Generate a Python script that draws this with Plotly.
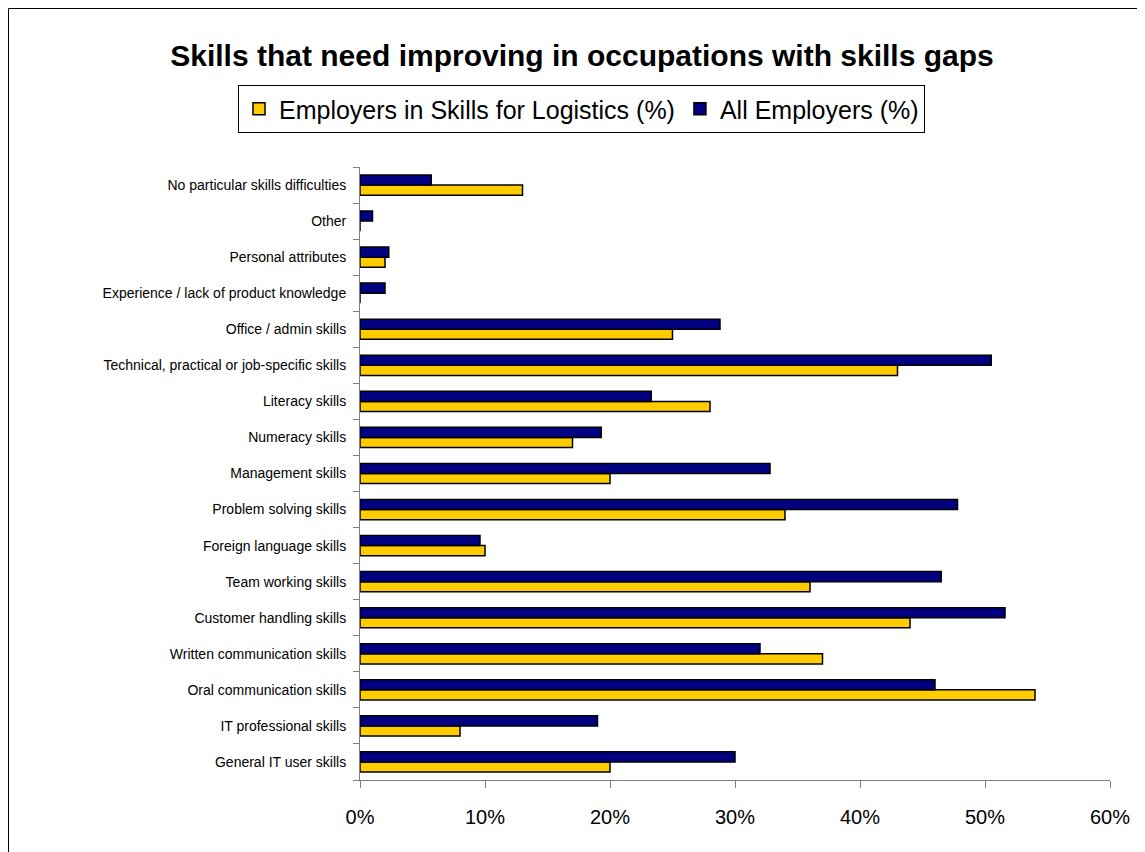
import plotly.graph_objects as go

# Categories listed bottom-to-top
categories = [
    "General IT user skills",
    "IT professional skills",
    "Oral communication skills",
    "Written communication skills",
    "Customer handling skills",
    "Team working skills",
    "Foreign language skills",
    "Problem solving skills",
    "Management skills",
    "Numeracy skills",
    "Literacy skills",
    "Technical, practical or job-specific skills",
    "Office / admin skills",
    "Experience / lack of product knowledge",
    "Personal attributes",
    "Other",
    "No particular skills difficulties",
]
logistics = [20, 8, 54, 37, 44, 36, 10, 34, 20, 17, 28, 43, 25, 0, 2, 0, 13]
all_employers = [30, 19, 46, 32, 51.6, 46.5, 9.6, 47.8, 32.8, 19.3, 23.3, 50.5, 28.8, 2, 2.3, 1, 5.7]

series_names = ["Employers in Skills for Logistics (%)", "All Employers (%)"]
tick_vals = [0, 10, 20, 30, 40, 50, 60]
tick_text = [f"{v}%" for v in tick_vals]

OFF = 8  # page body margin
W, H = 1145 - OFF, 852 - OFF
L, T = 360 - OFF, 167 - OFF
R = W - (1110 - OFF)
B = H - (780 - OFF)
pw, ph = W - L - R, H - T - B

def px2x(px):
    return (px - OFF - L) / pw

def px2y(py):
    return (H - B - (py - OFF)) / ph

fig = go.Figure()
fig.add_trace(go.Bar(
    y=categories, x=logistics, orientation="h", name=series_names[0],
    marker=dict(color="#FFCC00", line=dict(color="black", width=1.5)),
))
fig.add_trace(go.Bar(
    y=categories, x=all_employers, orientation="h", name=series_names[1],
    marker=dict(color="#000080", line=dict(color="black", width=1.5)),
))

fig.update_layout(
    width=W, height=H,
    margin=dict(l=L, r=R, t=T, b=B),
    paper_bgcolor="white", plot_bgcolor="white",
    barmode="group", bargap=0.44, bargroupgap=0,
    font=dict(family="Liberation Sans, Arial, sans-serif", color="black"),
    title=dict(
        text="<b>Skills that need improving in occupations with skills gaps</b>",
        x=(582 - OFF) / W, xanchor="center", y=1 - (55 - OFF) / H, yanchor="middle",
        font=dict(size=30, color="black"),
    ),
    legend=dict(
        orientation="h", x=px2x(238), xanchor="left", y=px2y(85), yanchor="top",
        bordercolor="black", borderwidth=1, bgcolor="white",
        font=dict(size=25), traceorder="normal", itemwidth=30,
    ),
    xaxis=dict(
        range=[0, 60], tickvals=tick_vals, ticktext=tick_text,
        showgrid=False, zeroline=False,
        showline=True, linecolor="#808080", linewidth=1,
        ticks="outside", ticklen=7, tickcolor="#808080",
        tickfont=dict(size=20), automargin=False, ticklabelstandoff=12,
    ),
    yaxis=dict(
        categoryorder="array", categoryarray=categories,
        showgrid=False, showline=True, linecolor="#808080", linewidth=1,
        ticks="outside", ticklen=6, tickcolor="#808080", tickson="boundaries",
        tickfont=dict(size=14), automargin=False, ticklabelstandoff=10,
    ),
    shapes=[dict(
        type="rect", xref="paper", yref="paper",
        x0=px2x(OFF + 0.5), x1=px2x(1141), y0=px2y(OFF + 0.5), y1=px2y(870),
        line=dict(color="black", width=1), fillcolor="rgba(0,0,0,0)", layer="below",
    )],
    showlegend=True,
)

fig.write_html("out.html")
